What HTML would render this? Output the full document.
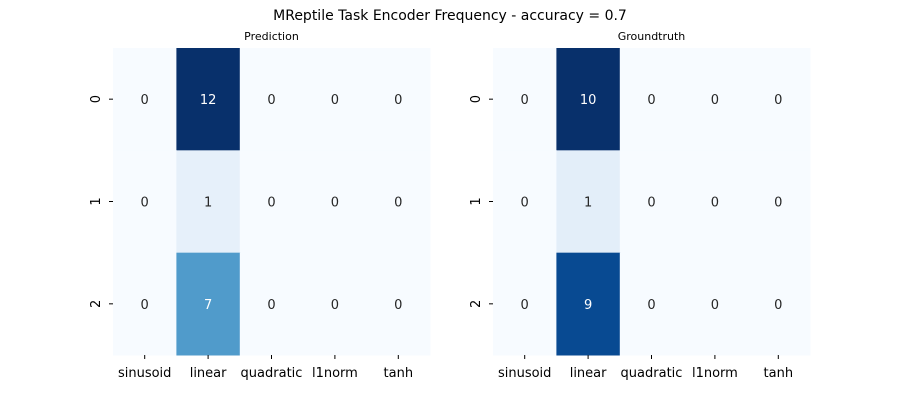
<!DOCTYPE html>
<html><head><meta charset="utf-8"><style>
body{margin:0;background:#fff;}
svg{display:block;font-family:"DejaVu Sans","Liberation Sans",sans-serif;}
</style></head><body>
<svg id="chart" width="900" height="400">
<text x="450" y="20" text-anchor="middle" font-size="14">MReptile Task Encoder Frequency - accuracy = 0.7</text>
</svg>
<script>
const categories = ["sinusoid","linear","quadratic","l1norm","tanh"];
const rowLabels = ["0","1","2"];
const predValues = [[0,12,0,0,0],[0,1,0,0,0],[0,7,0,0,0]];
const truthValues = [[0,10,0,0,0],[0,1,0,0,0],[0,9,0,0,0]];
const panelTitles = ["Prediction","Groundtruth"];

const NS="http://www.w3.org/2000/svg";
const svg=document.getElementById('chart');
const stops=["#f7fbff","#deebf7","#c6dbef","#9ecae1","#6baed6","#4292c6","#2171b5","#08519c","#08306b"].map(h=>[parseInt(h.slice(1,3),16),parseInt(h.slice(3,5),16),parseInt(h.slice(5,7),16)]);
function blues(t){t=Math.max(0,Math.min(1,t));const p=t*(stops.length-1);const i=Math.min(Math.floor(p),stops.length-2);const f=p-i;
 const c=stops[i].map((v,k)=>Math.round(v+(stops[i+1][k]-v)*f));return c;}
function mk(tag,attrs,parent){const e=document.createElementNS(NS,tag);for(const k in attrs)e.setAttribute(k,attrs[k]);(parent||svg).appendChild(e);return e;}
function drawPanel(values,x0,title,idx){
 const w=317,h=307,y0=48;const cw=w/categories.length,ch=h/rowLabels.length;
 const xs=j=>x0+j*cw, ys=i=>y0+i*ch;
 const mx=Math.max(...values.flat()),mn=Math.min(...values.flat());
 const g=mk('g',{});
 
 
 const t=mk('text',{x:x0+w/2,y:40,'text-anchor':'middle','font-size':'11'},g);t.textContent=title;
 
 
 values.forEach((row,i)=>row.forEach((v,j)=>{
  const c=blues((v-mn)/(mx-mn||1));
  const r=mk('rect',{x:xs(j),y:ys(i),width:cw+0.5,height:ch+0.5,fill:`rgb(${c})`},g);
  
  
  const lum=0.299*c[0]+0.587*c[1]+0.114*c[2];
  const tx=mk('text',{x:xs(j)+cw/2,y:ys(i)+ch/2+5,'text-anchor':'middle','font-size':'13',fill:lum<140?'#fff':'#262626'},g);tx.textContent=v;
  
  
 }));
 categories.forEach((c,j)=>{
  mk('line',{x1:xs(j)+cw/2,x2:xs(j)+cw/2,y1:y0+h,y2:y0+h+4,stroke:'#000'},g);
  const tx=mk('text',{x:xs(j)+cw/2,y:y0+h+22,'text-anchor':'middle','font-size':'13'},g);tx.textContent=c;
  
  
 });
 rowLabels.forEach((l,i)=>{
  const yc=ys(i)+ch/2;
  mk('line',{x1:x0-4,x2:x0,y1:yc,y2:yc,stroke:'#000'},g);
  const tx=mk('text',{x:x0-13,y:yc,'text-anchor':'middle','font-size':'13',transform:`rotate(-90 ${x0-13} ${yc})`,dy:'0'},g);tx.textContent=l;
  
  
 });
}
drawPanel(predValues,113,panelTitles[0],0);
drawPanel(truthValues,493,panelTitles[1],1);
</script>
</body></html>
